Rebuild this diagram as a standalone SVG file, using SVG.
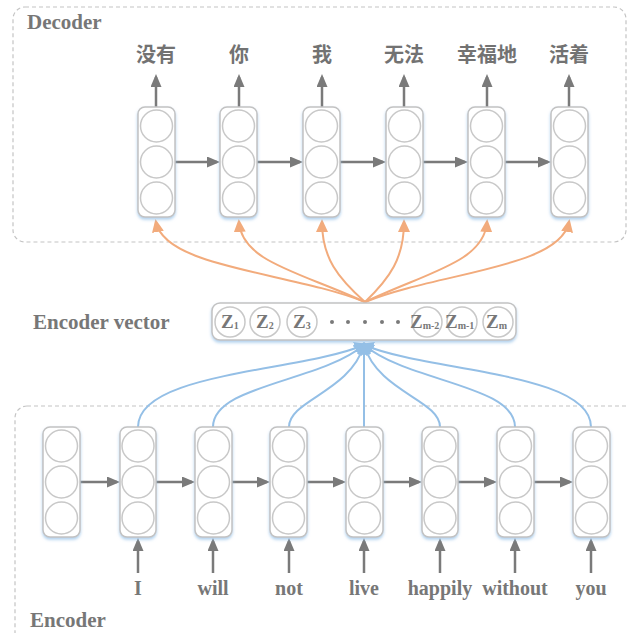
<svg xmlns="http://www.w3.org/2000/svg" width="627" height="633" viewBox="0 0 627 633">
  <style>
    .frame { fill: none; stroke: #c4c4c4; stroke-width: 1.2; stroke-dasharray: 4 3; }
    .cell { fill: #ffffff; stroke: #c2c2c2; stroke-width: 1.5; filter: url(#glow); }
    .unit { fill: #ffffff; stroke: #c8c8c8; stroke-width: 1.5; }
    .flow { fill: none; stroke: #7a7a7a; stroke-width: 2.5; }
    .ctx-out { fill: none; stroke: #f2ab7c; stroke-width: 2; }
    .ctx-in { fill: none; stroke: #94bfe6; stroke-width: 2; }
    .title { font-family: "Liberation Serif", "Times New Roman", serif; font-weight: bold; font-size: 21px; fill: #777777; }
    .word { font-family: "Liberation Serif", "Times New Roman", serif; font-weight: bold; font-size: 20px; fill: #777777; text-anchor: middle; }
    .zh { font-family: "Noto Sans CJK SC", "Noto Sans", sans-serif; font-weight: bold; font-size: 20px; fill: #727272; text-anchor: middle; }
    .z { font-family: "Liberation Serif", "Times New Roman", serif; font-weight: bold; font-size: 19px; fill: #777777; }
    .sub { font-size: 10px; }
  </style>
  <defs>
    <filter id="glow" x="-30%" y="-10%" width="160%" height="125%">
      <feDropShadow dx="0" dy="2" stdDeviation="1.6" flood-color="#8fbde6" flood-opacity="0.7"/>
    </filter>
    <marker id="head-grey" markerUnits="userSpaceOnUse" viewBox="0 0 13 11" refX="10" refY="5.5" markerWidth="13" markerHeight="11" orient="auto">
      <path d="M0,0 L13,5.5 L0,11 z" fill="#7a7a7a"/>
    </marker>
    <marker id="head-orange" markerUnits="userSpaceOnUse" viewBox="0 0 13 12" refX="10" refY="6" markerWidth="13" markerHeight="12" orient="auto">
      <path d="M0,0 L13,6 L0,12 z" fill="#f2ab7c"/>
    </marker>
    <marker id="head-blue" markerUnits="userSpaceOnUse" viewBox="0 0 12 14" refX="9" refY="7" markerWidth="12" markerHeight="14" orient="auto">
      <path d="M0,0 L12,7 L0,14 z" fill="#94bfe6"/>
    </marker>
  </defs>

  <!-- dashed frames -->
  <rect class="frame" x="13" y="7" width="613" height="235" rx="12"/>
  <rect class="frame" x="15" y="406" width="630" height="240" rx="12"/>
  <text class="title" x="27" y="29">Decoder</text>
  <text class="title" x="30" y="627">Encoder</text>
  <text class="title" x="33" y="329">Encoder vector</text>

  <!-- connectors -->
  <g id="connectors">
    <!-- decoder outputs -->
    <g class="flow" marker-end="url(#head-grey)">
      <line x1="156" y1="107" x2="156" y2="77"/>
      <line x1="239" y1="107" x2="239" y2="77"/>
      <line x1="322" y1="107" x2="322" y2="77"/>
      <line x1="404" y1="107" x2="404" y2="77"/>
      <line x1="487" y1="107" x2="487" y2="77"/>
      <line x1="569" y1="107" x2="569" y2="77"/>
      <!-- decoder recurrence -->
      <line x1="175" y1="162" x2="217" y2="162"/>
      <line x1="257" y1="162" x2="300" y2="162"/>
      <line x1="340" y1="162" x2="383" y2="162"/>
      <line x1="423" y1="162" x2="465" y2="162"/>
      <line x1="505" y1="162" x2="548" y2="162"/>
      <!-- encoder recurrence -->
      <line x1="80" y1="482" x2="117" y2="482"/>
      <line x1="156" y1="482" x2="192" y2="482"/>
      <line x1="232" y1="482" x2="267" y2="482"/>
      <line x1="307" y1="482" x2="343" y2="482"/>
      <line x1="383" y1="482" x2="419" y2="482"/>
      <line x1="458" y1="482" x2="494" y2="482"/>
      <line x1="534" y1="482" x2="570" y2="482"/>
      <!-- encoder inputs -->
      <line x1="138" y1="573" x2="138" y2="541"/>
      <line x1="213" y1="573" x2="213" y2="541"/>
      <line x1="289" y1="573" x2="289" y2="541"/>
      <line x1="364" y1="573" x2="364" y2="541"/>
      <line x1="440" y1="573" x2="440" y2="541"/>
      <line x1="515" y1="573" x2="515" y2="541"/>
      <line x1="591" y1="573" x2="591" y2="541"/>
    </g>
    <!-- context vector to decoder -->
    <g class="ctx-out" marker-end="url(#head-orange)">
      <path d="M365,302 C290,272 165,268 156,222"/>
      <path d="M365,302 C300,272 242,262 239,222"/>
      <path d="M365,302 C338,278 322,258 322,222"/>
      <path d="M365,302 C390,278 404,258 404,222"/>
      <path d="M365,302 C428,272 484,262 487,222"/>
      <path d="M365,302 C440,272 560,268 569,222"/>
    </g>
    <!-- encoder states to context vector -->
    <g class="ctx-in" marker-end="url(#head-blue)">
      <path d="M138,427 C138,372 300,372 364,345"/>
      <path d="M213,427 C213,385 320,382 364,345"/>
      <path d="M289,427 C289,400 350,392 364,345"/>
      <path d="M364,427 L364,345"/>
      <path d="M440,427 C440,400 378,392 364,345"/>
      <path d="M515,427 C515,385 408,382 364,345"/>
      <path d="M591,427 C591,372 428,372 364,345"/>
    </g>
  </g>

  <!-- decoder cells -->
  <g id="dec-1"><rect class="cell" x="138" y="107" width="37" height="110" rx="7"/><circle class="unit" cx="156.5" cy="126" r="16"/><circle class="unit" cx="156.5" cy="162" r="16"/><circle class="unit" cx="156.5" cy="198" r="16"/></g>
  <g id="dec-2"><rect class="cell" x="220" y="107" width="37" height="110" rx="7"/><circle class="unit" cx="238.5" cy="126" r="16"/><circle class="unit" cx="238.5" cy="162" r="16"/><circle class="unit" cx="238.5" cy="198" r="16"/></g>
  <g id="dec-3"><rect class="cell" x="303" y="107" width="37" height="110" rx="7"/><circle class="unit" cx="321.5" cy="126" r="16"/><circle class="unit" cx="321.5" cy="162" r="16"/><circle class="unit" cx="321.5" cy="198" r="16"/></g>
  <g id="dec-4"><rect class="cell" x="386" y="107" width="37" height="110" rx="7"/><circle class="unit" cx="404.5" cy="126" r="16"/><circle class="unit" cx="404.5" cy="162" r="16"/><circle class="unit" cx="404.5" cy="198" r="16"/></g>
  <g id="dec-5"><rect class="cell" x="468" y="107" width="37" height="110" rx="7"/><circle class="unit" cx="486.5" cy="126" r="16"/><circle class="unit" cx="486.5" cy="162" r="16"/><circle class="unit" cx="486.5" cy="198" r="16"/></g>
  <g id="dec-6"><rect class="cell" x="551" y="107" width="37" height="110" rx="7"/><circle class="unit" cx="569.5" cy="126" r="16"/><circle class="unit" cx="569.5" cy="162" r="16"/><circle class="unit" cx="569.5" cy="198" r="16"/></g>

  <!-- decoder outputs -->
  <g id="dec-words">
    <text class="zh" x="156" y="62">没有</text>
    <text class="zh" x="239" y="62">你</text>
    <text class="zh" x="322" y="62">我</text>
    <text class="zh" x="404" y="62">无法</text>
    <text class="zh" x="487" y="62">幸福地</text>
    <text class="zh" x="569" y="62">活着</text>
  </g>

  <!-- encoder vector -->
  <g id="encoder-vector">
    <rect class="cell" x="212" y="303" width="304" height="37" rx="8"/>
    <circle class="unit" cx="230" cy="322" r="15"/>
    <circle class="unit" cx="265" cy="322" r="15"/>
    <circle class="unit" cx="302" cy="322" r="15"/>
    <circle class="unit" cx="427" cy="322" r="15"/>
    <circle class="unit" cx="462" cy="322" r="15"/>
    <circle class="unit" cx="498" cy="322" r="15"/>
    <g fill="#7a7a7a">
      <circle cx="332" cy="322" r="2"/><circle cx="348" cy="322" r="2"/><circle cx="365" cy="322" r="2"/><circle cx="382" cy="322" r="2"/><circle cx="398" cy="322" r="2"/>
    </g>
    <text class="z" x="221" y="328">Z<tspan class="sub" dy="1">1</tspan></text>
    <text class="z" x="256" y="328">Z<tspan class="sub" dy="1">2</tspan></text>
    <text class="z" x="293" y="328">Z<tspan class="sub" dy="1">3</tspan></text>
    <text class="z" x="410" y="328">Z<tspan class="sub" dy="1">m-2</tspan></text>
    <text class="z" x="445" y="328">Z<tspan class="sub" dy="1">m-1</tspan></text>
    <text class="z" x="486" y="328">Z<tspan class="sub" dy="1">m</tspan></text>
  </g>

  <!-- encoder cells -->
  <g id="enc-0"><rect class="cell" x="43" y="427" width="37" height="110" rx="7"/><circle class="unit" cx="61.5" cy="446" r="16"/><circle class="unit" cx="61.5" cy="482" r="16"/><circle class="unit" cx="61.5" cy="518" r="16"/></g>
  <g id="enc-1"><rect class="cell" x="120" y="427" width="36" height="110" rx="7"/><circle class="unit" cx="138" cy="446" r="16"/><circle class="unit" cx="138" cy="482" r="16"/><circle class="unit" cx="138" cy="518" r="16"/></g>
  <g id="enc-2"><rect class="cell" x="195" y="427" width="37" height="110" rx="7"/><circle class="unit" cx="213.5" cy="446" r="16"/><circle class="unit" cx="213.5" cy="482" r="16"/><circle class="unit" cx="213.5" cy="518" r="16"/></g>
  <g id="enc-3"><rect class="cell" x="270" y="427" width="37" height="110" rx="7"/><circle class="unit" cx="288.5" cy="446" r="16"/><circle class="unit" cx="288.5" cy="482" r="16"/><circle class="unit" cx="288.5" cy="518" r="16"/></g>
  <g id="enc-4"><rect class="cell" x="346" y="427" width="37" height="110" rx="7"/><circle class="unit" cx="364.5" cy="446" r="16"/><circle class="unit" cx="364.5" cy="482" r="16"/><circle class="unit" cx="364.5" cy="518" r="16"/></g>
  <g id="enc-5"><rect class="cell" x="422" y="427" width="36" height="110" rx="7"/><circle class="unit" cx="440" cy="446" r="16"/><circle class="unit" cx="440" cy="482" r="16"/><circle class="unit" cx="440" cy="518" r="16"/></g>
  <g id="enc-6"><rect class="cell" x="497" y="427" width="37" height="110" rx="7"/><circle class="unit" cx="515.5" cy="446" r="16"/><circle class="unit" cx="515.5" cy="482" r="16"/><circle class="unit" cx="515.5" cy="518" r="16"/></g>
  <g id="enc-7"><rect class="cell" x="573" y="427" width="37" height="110" rx="7"/><circle class="unit" cx="591.5" cy="446" r="16"/><circle class="unit" cx="591.5" cy="482" r="16"/><circle class="unit" cx="591.5" cy="518" r="16"/></g>

  <!-- encoder inputs -->
  <g id="enc-words">
    <text class="word" x="138" y="595">I</text>
    <text class="word" x="213" y="595">will</text>
    <text class="word" x="289" y="595">not</text>
    <text class="word" x="364" y="595">live</text>
    <text class="word" x="440" y="595">happily</text>
    <text class="word" x="515" y="595">without</text>
    <text class="word" x="591" y="595">you</text>
  </g>
</svg>
